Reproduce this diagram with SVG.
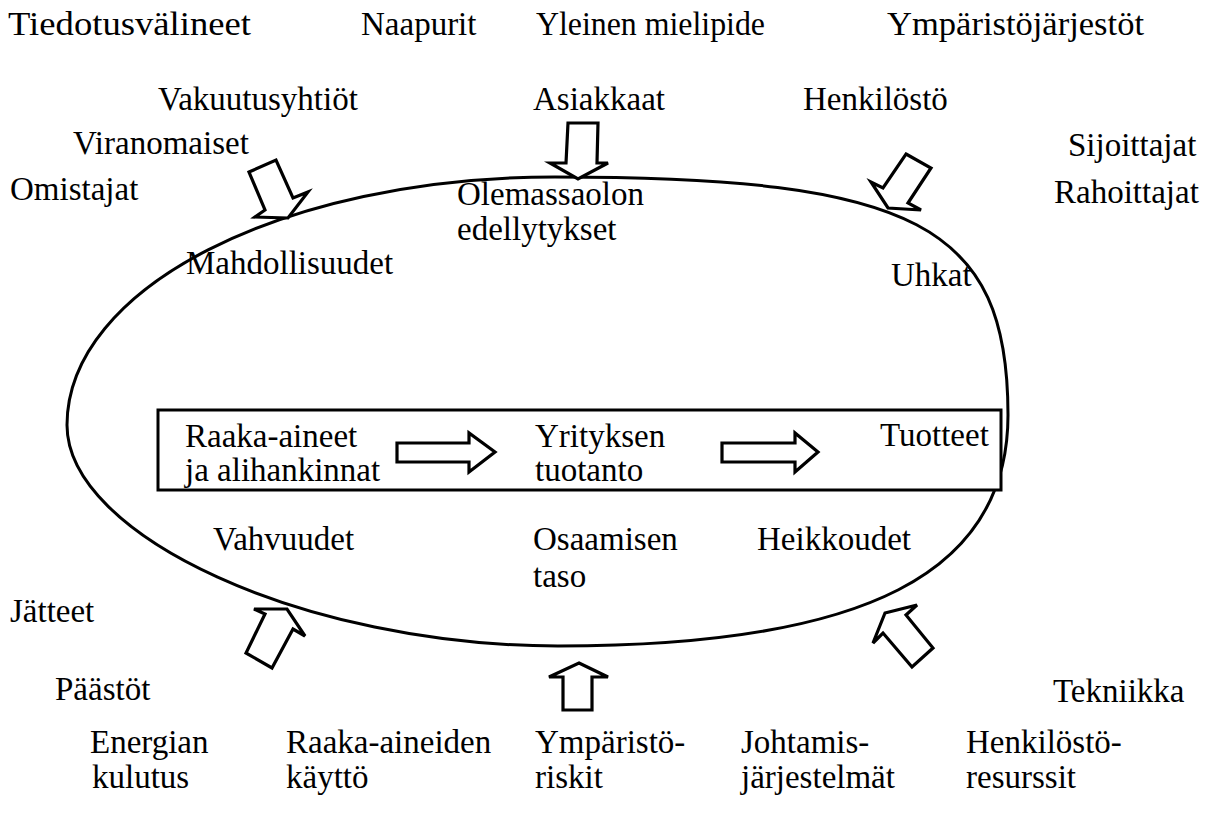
<svg xmlns="http://www.w3.org/2000/svg" width="1231" height="814" viewBox="0 0 1231 814">
<style>
text{font-family:"Liberation Serif","Times New Roman",serif;font-size:33px;fill:#000}
.sh{fill:#fff;stroke:#000;stroke-width:3;stroke-linejoin:miter}
.ar{fill:#fff;stroke:#000;stroke-width:3.2;stroke-linejoin:miter}
</style>
<rect width="1231" height="814" fill="#fff"/>
<g id="ellipse"><path class="sh" d="M67,425 C67,288 282,177 555,177 C915,177 1008,225 1008,415 C1008,573 866,646 558,646 C305,646 67,536 67,425 Z"/></g>
<g id="process-box"><rect class="sh" x="158" y="410" width="843" height="80"/></g>
<g id="connectors">
<polygon class="ar" points="249,172 276,160 293,198 308,192 288,218 255,217 265,210"/>
<polygon class="ar" points="568,123 598,123 597,163 608,163 578,179 550,163 566,163"/>
<polygon class="ar" points="906,154 931,168 908,203 921,210 888,208 871,182 883,188"/>
<polygon class="ar" points="397,443 469,443 469,433 495,452 469,472 469,462 397,462"/>
<polygon class="ar" points="722,443 795,443 795,433 818,452 795,472 795,462 722,462"/>
<polygon class="ar" points="254,609 287,609 305,636 293,629 272,668 246,653 265,614"/>
<polygon class="ar" points="579,663 608,677 592,677 592,710 563,710 563,677 549,677"/>
<polygon class="ar" points="885,613 917,605 906,615 933,648 912,667 883,633 873,643"/>
</g>
<g id="n-tiedotusvalineet"><text x="8" y="35" textLength="243" lengthAdjust="spacingAndGlyphs">Tiedotusvälineet</text></g>
<g id="n-naapurit"><text x="361" y="35">Naapurit</text></g>
<g id="n-yleinen"><text x="536" y="35" textLength="229" lengthAdjust="spacingAndGlyphs">Yleinen mielipide</text></g>
<g id="n-ymparistojarjestot"><text x="887" y="35" textLength="257" lengthAdjust="spacingAndGlyphs">Ympäristöjärjestöt</text></g>
<g id="n-vakuutusyhtiot"><text x="158" y="110">Vakuutusyhtiöt</text></g>
<g id="n-asiakkaat"><text x="533" y="110">Asiakkaat</text></g>
<g id="n-henkilosto"><text x="803" y="110">Henkilöstö</text></g>
<g id="n-viranomaiset"><text x="73" y="154">Viranomaiset</text></g>
<g id="n-sijoittajat"><text x="1068" y="156">Sijoittajat</text></g>
<g id="n-omistajat"><text x="10" y="200">Omistajat</text></g>
<g id="n-rahoittajat"><text x="1054" y="203">Rahoittajat</text></g>
<g id="n-olemassaolon"><text x="457" y="205">Olemassaolon</text><text x="457" y="240">edellytykset</text></g>
<g id="n-mahdollisuudet"><text x="186" y="274">Mahdollisuudet</text></g>
<g id="n-uhkat"><text x="891" y="286">Uhkat</text></g>
<g id="n-raaka-aineet"><text x="185" y="447">Raaka-aineet</text><text x="185" y="481">ja alihankinnat</text></g>
<g id="n-yrityksen"><text x="535" y="447">Yrityksen</text><text x="535" y="481">tuotanto</text></g>
<g id="n-tuotteet"><text x="880" y="446">Tuotteet</text></g>
<g id="n-vahvuudet"><text x="213" y="550">Vahvuudet</text></g>
<g id="n-osaamisen"><text x="533" y="550">Osaamisen</text><text x="533" y="587">taso</text></g>
<g id="n-heikkoudet"><text x="757" y="550">Heikkoudet</text></g>
<g id="n-jatteet"><text x="10" y="622">Jätteet</text></g>
<g id="n-paastot"><text x="55" y="700">Päästöt</text></g>
<g id="n-tekniikka"><text x="1053" y="702">Tekniikka</text></g>
<g id="n-energian"><text x="90" y="753">Energian</text><text x="92" y="788">kulutus</text></g>
<g id="n-raaka-aineiden"><text x="286" y="753">Raaka-aineiden</text><text x="286" y="788">käyttö</text></g>
<g id="n-ymparistoriskit"><text x="535" y="753">Ympäristö-</text><text x="535" y="788">riskit</text></g>
<g id="n-johtamis"><text x="741" y="753">Johtamis-</text><text x="741" y="788">järjestelmät</text></g>
<g id="n-henkilostoresurssit"><text x="966" y="753">Henkilöstö-</text><text x="966" y="788">resurssit</text></g>
</svg>
